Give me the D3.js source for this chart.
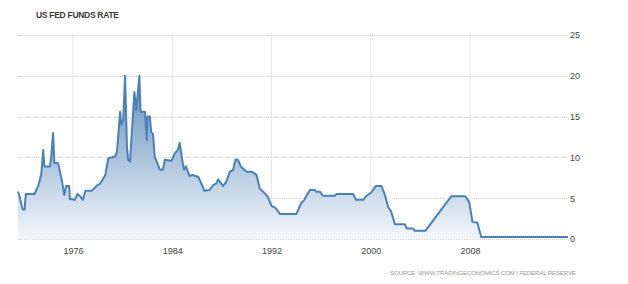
<!DOCTYPE html>
<html>
<head>
<meta charset="utf-8">
<script src="https://cdn.jsdelivr.net/npm/d3@7/dist/d3.min.js"></script>
<style>
  body { margin: 0; background: #fff; }
  svg text { font-family: "Liberation Sans", Arial, sans-serif; }
</style>
</head>
<body>
<svg id="chart" width="628" height="284"></svg>
<script>
// datos (anio decimal, tasa %)
const years = [
  1971.57, 1971.7, 1971.95, 1972.1, 1972.2, 1972.9, 1973.2, 1973.45, 1973.6, 1973.7,
  1974.15, 1974.25, 1974.4, 1974.5, 1974.8, 1975.1, 1975.3, 1975.45, 1975.7, 1975.75,
  1976.15, 1976.35, 1976.55, 1976.8, 1977.0, 1977.5, 1977.9, 1978.2, 1978.6, 1978.85,
  1979.4, 1979.55, 1979.8, 1979.9, 1980.05, 1980.2, 1980.35, 1980.45, 1980.6, 1980.95,
  1981.1, 1981.35, 1981.45, 1981.8, 1981.95, 1982.0, 1982.2, 1982.3, 1982.45, 1982.6,
  1982.7, 1983.0, 1983.25, 1983.4, 1983.95, 1984.2, 1984.45, 1984.6, 1984.85, 1984.95,
  1985.1, 1985.4, 1985.65, 1986.1, 1986.35, 1986.6, 1987.0, 1987.3, 1987.55, 1987.7,
  1988.1, 1988.35, 1988.65, 1988.9, 1989.1, 1989.3, 1989.55, 1990.0, 1990.4, 1990.8,
  1991.05, 1991.45, 1991.7, 1992.0, 1992.3, 1992.7, 1994.0, 1994.4, 1994.65, 1994.85,
  1995.1, 1995.5, 1995.6, 1995.9, 1996.15, 1997.1, 1997.25, 1998.6, 1998.8, 1999.4,
  1999.65, 2000.05, 2000.4, 2000.85, 2001.1, 2001.4, 2001.65, 2001.95, 2002.75, 2002.9,
  2003.4, 2003.55, 2004.4, 2006.5, 2007.6, 2007.85, 2007.95, 2008.2, 2008.6, 2008.9,
  2015.9
];
const rates = [
  5.8, 5.2, 3.6, 3.6, 5.5, 5.5, 6.5, 8.0, 10.9, 8.9,
  8.9, 10.1, 13.0, 9.3, 9.3, 7.2, 5.4, 6.5, 6.5, 4.9,
  4.8, 5.5, 5.3, 4.8, 5.9, 5.9, 6.5, 6.8, 7.8, 9.9,
  10.1, 10.7, 15.6, 14.0, 14.6, 20.0, 11.3, 9.7, 9.5, 18.0,
  15.8, 20.0, 15.6, 15.6, 12.1, 15.0, 15.0, 13.1, 12.9, 9.9,
  9.7, 8.5, 8.5, 9.7, 9.6, 10.5, 10.9, 11.8, 9.3, 8.5,
  8.9, 7.7, 7.85, 7.6, 6.8, 5.9, 6.0, 6.6, 6.8, 7.3,
  6.5, 7.0, 8.25, 8.45, 9.75, 9.7, 8.85, 8.25, 8.25, 7.85,
  6.2, 5.6, 5.2, 4.05, 3.85, 3.05, 3.05, 4.4, 4.8, 5.4,
  6.0, 6.0, 5.8, 5.8, 5.3, 5.3, 5.5, 5.5, 4.8, 4.8,
  5.3, 5.7, 6.5, 6.5, 5.6, 3.95, 3.35, 1.8, 1.8, 1.3,
  1.3, 1.0, 1.0, 5.25, 5.25, 4.75, 4.4, 2.1, 2.0, 0.25,
  0.25
];
const xTicks = [1976, 1984, 1992, 2000, 2008];
const yTicks = [0, 5, 10, 15, 20, 25];

const data = years.map((d, i) => ({ year: d, rate: rates[i] }));

const svg = d3.select("#chart");

const x = d3.scaleLinear().domain([1971.57, 2015.9]).range([18, 568]);
const y = d3.scaleLinear().domain([0, 25]).range([239, 35]);

// titulo
svg.append("text")
  .attr("x", 36).attr("y", 18)
  .attr("font-size", 8.5).attr("font-weight", "bold")
  .attr("fill", "#3a3a3a")
  .attr("textLength", 83)
  .text("US FED FUNDS RATE");

// grilla vertical
svg.append("g")
  .selectAll("line")
  .data(xTicks)
  .enter().append("line")
  .attr("x1", d => x(d)).attr("x2", d => x(d))
  .attr("y1", 33).attr("y2", y(0))
  .attr("stroke", "#e6e6e6").attr("stroke-width", 1);

// grilla horizontal punteada
svg.append("g")
  .selectAll("line")
  .data(yTicks)
  .enter().append("line")
  .attr("x1", 18).attr("x2", 568)
  .attr("y1", d => Math.round(y(d)) + 0.5).attr("y2", d => Math.round(y(d)) + 0.5)
  .attr("stroke", "#d8d8d8").attr("stroke-width", 1)
  .attr("stroke-dasharray", "1,1");

// degradado del area
const grad = svg.append("defs").append("linearGradient")
  .attr("id", "fillGrad")
  .attr("gradientUnits", "userSpaceOnUse")
  .attr("x1", 0).attr("x2", 0)
  .attr("y1", y(20)).attr("y2", y(0));
grad.append("stop").attr("offset", "0%").attr("stop-color", "#6290bf");
grad.append("stop").attr("offset", "100%").attr("stop-color", "#f3f6fa");

const area = d3.area()
  .x(d => x(d.year))
  .y0(y(0))
  .y1(d => y(d.rate));

const line = d3.line()
  .x(d => x(d.year))
  .y(d => y(d.rate));

svg.append("path")
  .datum(data)
  .attr("d", area)
  .attr("fill", "url(#fillGrad)");

svg.append("path")
  .datum(data)
  .attr("d", line)
  .attr("fill", "none")
  .attr("stroke", "#4a80b5")
  .attr("stroke-width", 2)
  .attr("stroke-linejoin", "round");

// eje x
const xAxis = svg.append("g")
  .attr("transform", `translate(0,${y(0) + 6})`)
  .call(d3.axisBottom(x).tickValues(xTicks).tickSize(0).tickFormat(d3.format("d")));
xAxis.select(".domain").remove();
xAxis.selectAll("text")
  .attr("font-size", 9).attr("fill", "#444")
  .attr("font-family", "'Liberation Sans', Arial, sans-serif");

// eje y a la derecha
const yAxis = svg.append("g")
  .attr("transform", `translate(568,0)`)
  .call(d3.axisRight(y).tickValues(yTicks).tickSize(0).tickPadding(2));
yAxis.select(".domain").remove();
yAxis.selectAll("text")
  .attr("font-size", 9).attr("fill", "#444")
  .attr("font-family", "'Liberation Sans', Arial, sans-serif");

// fuente
svg.append("text")
  .attr("x", 390).attr("y", 275)
  .attr("font-size", 6.2)
  .attr("fill", "#9a9a9a")
  .attr("textLength", 186)
  .text("SOURCE: WWW.TRADINGECONOMICS.COM | FEDERAL RESERVE");
</script>
</body>
</html>
